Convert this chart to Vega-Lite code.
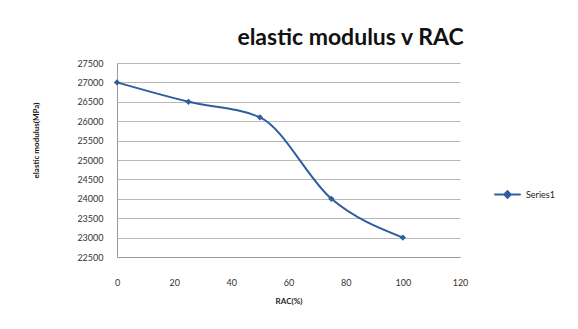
{
  "$schema": "https://vega.github.io/schema/vega-lite/v6.json",
  "width": 343,
  "height": 194,
  "autosize": "none",
  "padding": {"left": 117, "top": 63, "right": 118, "bottom": 72},
  "background": "white",
  "config": {
    "font": "Lato",
    "view": {"stroke": null},
    "axis": {"labelFont": "Lato", "titleFont": "Lato"}
  },
  "title": {
    "text": "elastic modulus v RAC",
    "font": "Lato",
    "fontSize": 23,
    "fontWeight": "bold",
    "color": "#111111",
    "anchor": "middle",
    "dx": 62,
    "offset": 9
  },
  "data": {
    "values": [
      {"rac": 0, "modulus": 27000, "series": "Series1"},
      {"rac": 25, "modulus": 26500, "series": "Series1"},
      {"rac": 50, "modulus": 26100, "series": "Series1"},
      {"rac": 75, "modulus": 24000, "series": "Series1"},
      {"rac": 100, "modulus": 23000, "series": "Series1"}
    ]
  },
  "mark": {
    "type": "line",
    "interpolate": "monotone",
    "strokeWidth": 2,
    "point": {"shape": "diamond", "size": 40, "filled": true}
  },
  "encoding": {
    "x": {
      "field": "rac",
      "type": "quantitative",
      "title": "RAC(%)",
      "scale": {"domain": [0, 120], "nice": false},
      "axis": {
        "values": [0, 20, 40, 60, 80, 100, 120],
        "grid": false,
        "ticks": false,
        "labelFlush": false,
        "domainColor": "#9a9a9a",
        "labelFontSize": 9,
        "labelColor": "#333333",
        "labelPadding": 21,
        "titleFontSize": 8,
        "titleFontWeight": "bold",
        "titleColor": "#222222",
        "titlePadding": 10
      }
    },
    "y": {
      "field": "modulus",
      "type": "quantitative",
      "title": "elastic modulus(MPa)",
      "scale": {"domain": [22500, 27500], "nice": false, "zero": false},
      "axis": {
        "values": [22500, 23000, 23500, 24000, 24500, 25000, 25500, 26000, 26500, 27000, 27500],
        "format": "d",
        "grid": true,
        "gridColor": "#b8b8b8",
        "gridWidth": 1,
        "ticks": false,
        "labelFlush": false,
        "domainColor": "#9a9a9a",
        "labelFontSize": 9,
        "labelColor": "#333333",
        "labelPadding": 14,
        "titleFontSize": 8,
        "titleFontWeight": "bold",
        "titleColor": "#111111",
        "titlePadding": 36,
        "titleY": 77
      }
    },
    "color": {
      "field": "series",
      "type": "nominal",
      "scale": {"range": ["#2f5e9f"]},
      "legend": {
        "title": null,
        "orient": "none",
        "legendX": 376,
        "legendY": 117,
        "symbolType": "M-1,0H1M0,-0.25L0.25,0L0,0.25L-0.25,0Z",
        "symbolSize": 700,
        "symbolStrokeWidth": 2,
        "labelFontSize": 9,
        "labelColor": "#222222",
        "labelOffset": 4
      }
    }
  }
}
